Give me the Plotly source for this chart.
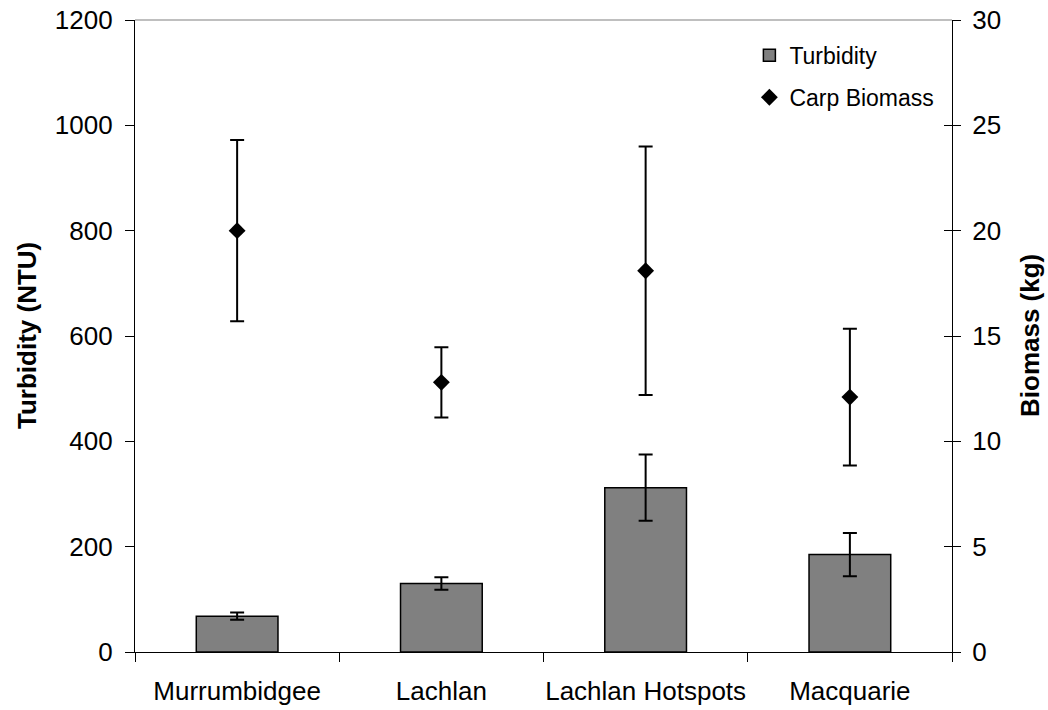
import plotly.graph_objects as go

categories = ["Murrumbidgee", "Lachlan", "Lachlan Hotspots", "Macquarie"]
turbidity = [68, 130, 312, 185]
turbidity_err = [7, 12, 63, 41]
biomass = [20.0, 12.8, 18.1, 12.1]
biomass_err = [4.3, 1.67, 5.9, 3.25]

FONT = "Liberation Sans, Arial, sans-serif"

fig = go.Figure()
fig.add_trace(go.Bar(
    x=categories, y=turbidity, name="Turbidity",
    marker=dict(color="#808080", line=dict(color="black", width=1.5)),
    error_y=dict(type="data", array=turbidity_err, color="black", thickness=2, width=7),
    legendgroup="a",
))
fig.add_trace(go.Scatter(
    x=categories, y=biomass, name="Carp Biomass", yaxis="y2", mode="markers",
    marker=dict(symbol="diamond", size=13, color="black"),
    error_y=dict(type="data", array=biomass_err, color="black", thickness=2, width=7),
    legendgroup="b",
))
# invisible trace to carry inner ticks on the right axis
fig.add_trace(go.Scatter(x=categories, y=biomass, yaxis="y3", mode="markers",
                         marker=dict(opacity=0), showlegend=False, hoverinfo="skip"))

fig.update_layout(
    width=1048, height=710,
    margin=dict(l=135, r=96, t=20, b=58),
    paper_bgcolor="white", plot_bgcolor="white",
    font=dict(family=FONT, size=26, color="black"),
    bargap=0.6,
    showlegend=True,
    legend=dict(x=0.752, y=0.978, xanchor="left", yanchor="top",
                font=dict(size=23, family=FONT), bgcolor="rgba(0,0,0,0)",
                tracegroupgap=9, itemwidth=30),
    xaxis=dict(showline=True, linecolor="black", linewidth=1.2,
               ticks="outside", tickson="boundaries", ticklen=9, tickcolor="black",
               showgrid=False, ticklabelstandoff=16, tickangle=0, automargin=False,
               tickfont=dict(size=26)),
    yaxis=dict(range=[0, 1200], dtick=200, showline=True, linecolor="black", linewidth=1.2,
               ticks="outside", ticklen=9, tickcolor="black", showgrid=False, zeroline=False,
               tickfont=dict(size=26), ticklabelstandoff=7, automargin=False),
    yaxis2=dict(range=[0, 30], dtick=5, overlaying="y", side="right", showline=True,
                linecolor="black", linewidth=1.2, ticks="outside", ticklen=8, tickcolor="black",
                showgrid=False, zeroline=False, tickfont=dict(size=26), ticklabelstandoff=6,
                automargin=False),
    yaxis3=dict(range=[0, 30], dtick=5, overlaying="y", side="right", showline=False,
                ticks="inside", ticklen=8, tickcolor="black", showticklabels=False,
                showgrid=False, zeroline=False, automargin=False),
    shapes=[dict(type="line", xref="paper", yref="paper", x0=0, x1=1, y0=1, y1=1,
                 line=dict(color="#808080", width=1.2))],
    annotations=[
        dict(text="<b>Turbidity (NTU)</b>", textangle=-90, xref="paper", yref="paper",
             x=(27 - 135) / 817, y=0.5, xanchor="center", yanchor="middle",
             showarrow=False, font=dict(size=26, family=FONT)),
        dict(text="<b>Biomass (kg)</b>", textangle=-90, xref="paper", yref="paper",
             x=(1030 - 135) / 817, y=0.5, xanchor="center", yanchor="middle",
             showarrow=False, font=dict(size=26, family=FONT)),
    ],
)

fig.write_html("out.html")
